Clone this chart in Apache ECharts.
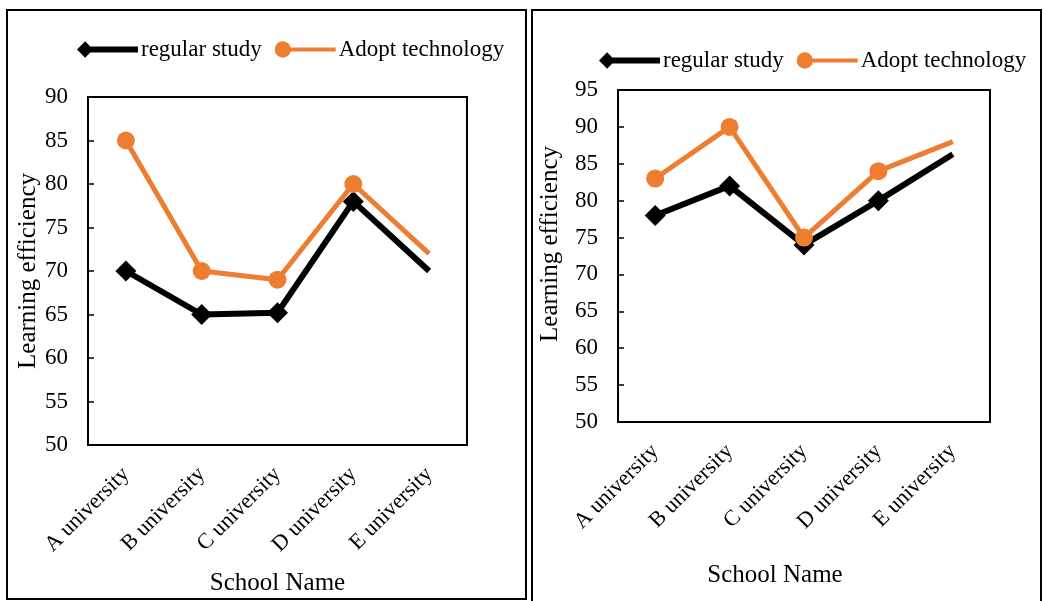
<!DOCTYPE html>
<html>
<head>
<meta charset="utf-8">
<script src="https://cdn.jsdelivr.net/npm/echarts@6/dist/echarts.min.js"></script>
<style>
  html, body { margin: 0; padding: 0; background: #fff; }
  #chart { width: 1043px; height: 601px; }
</style>
</head>
<body>
<div id="chart"></div>
<script>
// Schools on the category axis
const schools = ['A university', 'B university', 'C university', 'D university', 'E university'];

// First survey (left panel)
const leftRegular = [70, 65, 65.2, 78, 70];
const leftTech = [85, 70, 69, 80, 72];

// Second survey (right panel)
const rightRegular = [78, 82, 74, 80, 86.3];
const rightTech = [83, 90, 75, 84, 88];

// Axis ranges and step
const leftYMax = 90;
const rightYMax = 95;
const yMin = 50;
const yStep = 5;

const FONT = '"Liberation Serif", "Times New Roman", serif';
const ORANGE = '#ED7D31';
const BLACK = '#000000';

// Last point of each line is drawn without a marker
function withEndPlain(arr) {
  return arr.map((v, i) => i === arr.length - 1 ? { value: v, symbol: 'none' } : v);
}

const diamondIcon = 'path://M0,8 L8,0 L16,8 L8,16 Z M8,5 L60,5 L60,11 L8,11 Z';
const circleIcon = 'path://M0,8 A8,8 0 1,1 16,8 A8,8 0 1,1 0,8 Z M8,6 L60,6 L60,10 L8,10 Z';

function legendFor(left, top) {
  return {
    left: left, top: top,
    itemWidth: 61, itemHeight: 18, itemGap: 13,
    textStyle: { fontFamily: FONT, fontSize: 23, color: '#000', padding: [0, 0, 0, -2] },
    selectedMode: false,
    data: [
      { name: 'regular study', icon: diamondIcon },
      { name: 'Adopt technology', icon: circleIcon }
    ]
  };
}

function xAxisFor(gridIndex, nameGap, namePad) {
  return {
    type: 'category', gridIndex: gridIndex, data: schools,
    name: 'School Name', nameLocation: 'middle', nameGap: nameGap,
    nameTextStyle: { fontFamily: FONT, fontSize: 25, color: '#000', padding: namePad },
    axisLine: { lineStyle: { color: '#000', width: 2 } },
    axisTick: { show: false },
    axisLabel: { rotate: 45, margin: 26, fontFamily: FONT, fontSize: 22, color: '#000', interval: 0 }
  };
}

function yAxisFor(gridIndex, max, nameGap, namePad) {
  return {
    type: 'value', gridIndex: gridIndex, min: yMin, max: max, interval: yStep,
    name: 'Learning efficiency', nameLocation: 'middle', nameGap: nameGap,
    nameTextStyle: { fontFamily: FONT, fontSize: 25, color: '#000', padding: namePad },
    axisLine: { show: true, lineStyle: { color: '#000', width: 2 } },
    axisTick: { show: true, inside: true, length: 6, lineStyle: { color: '#000', width: 1.5 } },
    axisLabel: { margin: 20, fontFamily: FONT, fontSize: 23, color: '#000' },
    splitLine: { show: false }
  };
}

function seriesPair(axisIndex, regular, tech) {
  return [
    {
      name: 'regular study', type: 'line', xAxisIndex: axisIndex, yAxisIndex: axisIndex,
      data: withEndPlain(regular), symbol: 'diamond', symbolSize: 21,
      lineStyle: { color: BLACK, width: 6 }, itemStyle: { color: BLACK },
      animation: false, z: 2
    },
    {
      name: 'Adopt technology', type: 'line', xAxisIndex: axisIndex, yAxisIndex: axisIndex,
      data: withEndPlain(tech), symbol: 'circle', symbolSize: 18,
      lineStyle: { color: ORANGE, width: 5 }, itemStyle: { color: ORANGE },
      animation: false, z: 3
    }
  ];
}

const chart = echarts.init(document.getElementById('chart'), null, { renderer: 'canvas' });

chart.setOption({
  backgroundColor: '#fff',
  animation: false,
  textStyle: { fontFamily: FONT },
  legend: [legendFor(72, 33), legendFor(594, 44)],
  grid: [
    { left: 88, top: 97, width: 379, height: 348, show: true, borderColor: '#000', borderWidth: 2, containLabel: false },
    { left: 618, top: 90, width: 372, height: 332, show: true, borderColor: '#000', borderWidth: 2, containLabel: false }
  ],
  xAxis: [xAxisFor(0, 126, [0, 0, 0, 0]), xAxisFor(1, 141, [0, 58, 0, 0])],
  yAxis: [yAxisFor(0, leftYMax, 47, [0, 0, 0, 0]), yAxisFor(1, rightYMax, 55, [0, 0, 0, 24])],
  series: [].concat(seriesPair(0, leftRegular, leftTech), seriesPair(1, rightRegular, rightTech)),
  graphic: [
    { type: 'rect', shape: { x: 7, y: 10, width: 519, height: 589 }, style: { fill: 'none', stroke: '#000', lineWidth: 2 }, silent: true },
    { type: 'rect', shape: { x: 532, y: 10, width: 509, height: 600 }, style: { fill: 'none', stroke: '#000', lineWidth: 2 }, silent: true }
  ]
});
</script>
</body>
</html>
